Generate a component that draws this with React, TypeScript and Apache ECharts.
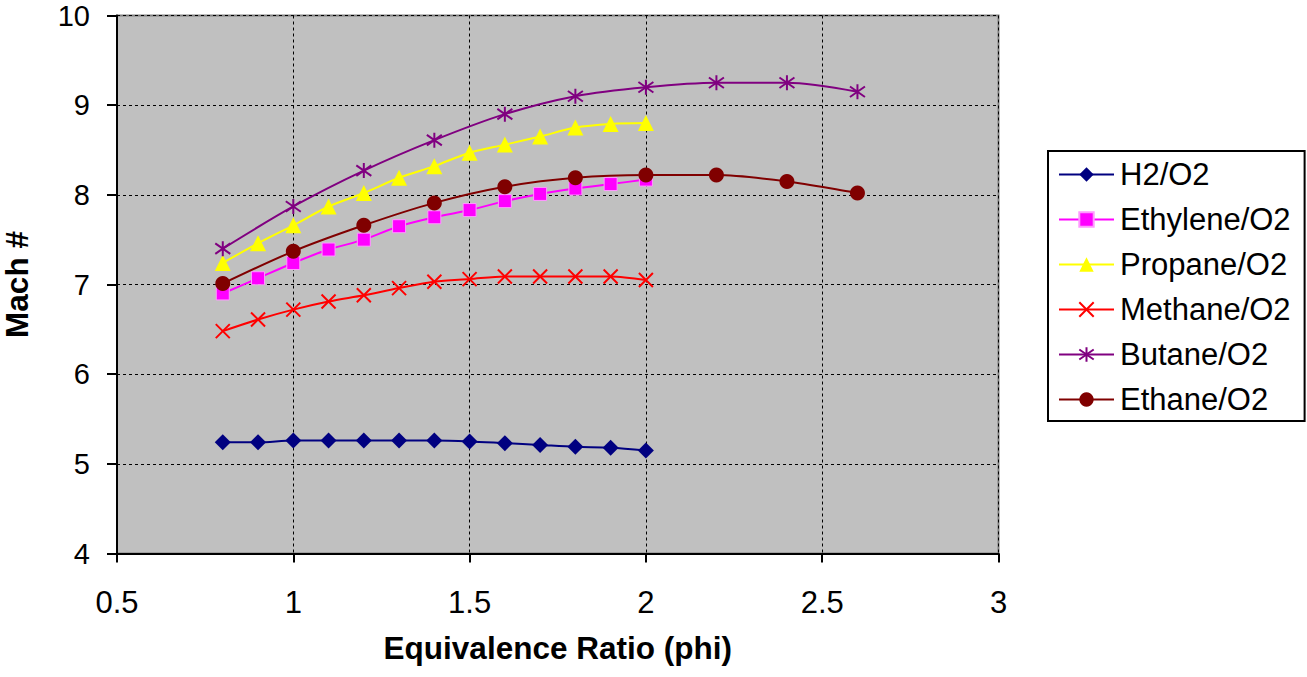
import React, { useEffect, useRef } from "react";
import * as echarts from "echarts";

const phiFine = [0.8, 0.9, 1.0, 1.1, 1.2, 1.3, 1.4, 1.5, 1.6, 1.7, 1.8, 1.9, 2.0];
const phiCoarse = [0.8, 1.0, 1.2, 1.4, 1.6, 1.8, 2.0, 2.2, 2.4, 2.6];

const h2O2 = [5.24, 5.24, 5.26, 5.26, 5.26, 5.26, 5.26, 5.25, 5.23, 5.21, 5.19, 5.18, 5.15];
const ethyleneO2 = [6.9, 7.07, 7.24, 7.39, 7.5, 7.65, 7.75, 7.83, 7.93, 8.01, 8.07, 8.12, 8.17];
const propaneO2 = [7.24, 7.46, 7.66, 7.87, 8.02, 8.19, 8.32, 8.47, 8.56, 8.65, 8.75, 8.79, 8.8];
const methaneO2 = [6.48, 6.61, 6.72, 6.81, 6.88, 6.96, 7.03, 7.06, 7.09, 7.09, 7.09, 7.09, 7.05];
const butaneO2 = [7.4, 7.87, 8.27, 8.61, 8.9, 9.1, 9.2, 9.25, 9.25, 9.15];
const ethaneO2 = [7.01, 7.37, 7.66, 7.91, 8.09, 8.19, 8.22, 8.22, 8.15, 8.02];

const xTicks = [0.5, 1, 1.5, 2, 2.5, 3];
const yTicks = [4, 5, 6, 7, 8, 9, 10];

const FONT = "'Liberation Sans', Arial, sans-serif";

const pair = (xs: number[], ys: number[]) => ys.map((y, i) => [xs[i], y]);

export default function App() {
  const ref = useRef<HTMLDivElement>(null);
  useEffect(() => {
    document.body.style.margin = "0";
    const chart = echarts.init(ref.current!, undefined, { renderer: "svg" });
    const mk = (
      name: string,
      data: number[][],
      color: string,
      symbol: string,
      symbolSize: number,
      stroke = false,
      border?: string
    ) => ({
      name,
      type: "line",
      data,
      smooth: 0.3,
      symbol,
      symbolSize,
      showSymbol: true,
      lineStyle: { color, width: 2 },
      itemStyle: stroke
        ? { color: "rgba(0,0,0,0)", borderColor: color, borderWidth: 2 }
        : { color, borderColor: border || color, borderWidth: border ? 1 : 0 },
      emphasis: { disabled: true },
      z: 3,
    });
    chart.setOption({
      animation: false,
      backgroundColor: "#ffffff",
      textStyle: { fontFamily: FONT },
      grid: {
        left: 117,
        top: 15.5,
        right: 308.5,
        bottom: 123.5,
        containLabel: false,
        outerBoundsMode: "none",
        show: true,
        backgroundColor: "#C0C0C0",
        borderColor: "#808080",
        borderWidth: 2,
      },
      legend: {
        orient: "vertical",
        left: 1048,
        top: 151,
        padding: [8, 14, 6, 10],
        itemWidth: 55,
        itemHeight: 18,
        itemGap: 14,
        borderColor: "#000",
        borderWidth: 2,
        backgroundColor: "#fff",
        textStyle: { fontSize: 31, lineHeight: 31, color: "#000", fontFamily: FONT, padding: [0, 0, 0, 1] },
        data: ["H2/O2", "Ethylene/O2", "Propane/O2", "Methane/O2", "Butane/O2", "Ethane/O2"],
      },
      xAxis: {
        type: "value",
        min: 0.5,
        max: 3,
        interval: 0.5,
        name: "Equivalence Ratio (phi)",
        nameLocation: "middle",
        nameGap: 78,
        nameTextStyle: { fontSize: 31.5, fontWeight: "bold", color: "#000", fontFamily: FONT },
        axisLine: { show: true, onZero: false, lineStyle: { color: "#000", width: 2 } },
        axisTick: { show: true, length: 9, lineStyle: { color: "#000", width: 2 } },
        axisLabel: {
          fontSize: 31,
          color: "#000",
          margin: 33,
          fontFamily: FONT,
          formatter: (v: number) => (xTicks.includes(v) ? String(v) : ""),
        },
        splitLine: { show: true, lineStyle: { color: "#000", width: 1, type: [3, 3] } },
      },
      yAxis: {
        type: "value",
        min: 4,
        max: 10,
        interval: 1,
        name: "Mach #",
        nameLocation: "middle",
        nameGap: 84,
        nameTextStyle: { fontSize: 31.5, fontWeight: "bold", color: "#000", fontFamily: FONT },
        axisLine: { show: true, onZero: false, lineStyle: { color: "#000", width: 2 } },
        axisTick: { show: true, length: 10, lineStyle: { color: "#000", width: 2 } },
        axisLabel: {
          fontSize: 29,
          color: "#000",
          margin: 27,
          fontFamily: FONT,
          formatter: (v: number) => (yTicks.includes(v) ? String(v) : ""),
        },
        splitLine: { show: true, lineStyle: { color: "#000", width: 1, type: [3, 3] } },
      },
      series: [
        mk("H2/O2", pair(phiFine, h2O2), "#000080", "diamond", 16),
        mk("Ethylene/O2", pair(phiFine, ethyleneO2), "#FF00FF", "rect", 13, false, "#FF99FF"),
        mk("Propane/O2", pair(phiFine, propaneO2), "#FFFF00", "triangle", 16),
        mk("Methane/O2", pair(phiFine, methaneO2), "#FF0000", "path://M0,0L10,10M10,0L0,10", 14, true),
        mk("Butane/O2", pair(phiCoarse, butaneO2), "#800080", "path://M5,0L5,10M0,1.5L10,8.5M10,1.5L0,8.5", 15, true),
        mk("Ethane/O2", pair(phiCoarse, ethaneO2), "#800000", "circle", 15),
      ],
    });
    return () => chart.dispose();
  }, []);
  return <div ref={ref} style={{ width: 1307, height: 677 }} />;
}
